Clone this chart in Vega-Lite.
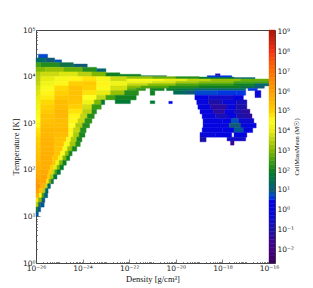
{"$schema":"https://vega.github.io/schema/vega-lite/v6.json","background":"white","padding":{"left":10,"top":25,"right":4,"bottom":3},"autosize":{"type":"pad"},"spacing":0,"bounds":"flush","config":{"view":{"stroke":"#444","strokeWidth":1},"axis":{"grid":false,"domain":false,"tickColor":"#555","tickWidth":0.7,"labelFont":"DejaVu Sans","labelFontSize":7.5,"labelColor":"#222","titleFont":"Liberation Serif","titleFontWeight":"normal","titleColor":"#111","titleFontSize":8.5,"labelOverlap":false,"labelFlush":false,"labelBound":false}},
"datasets":{"cells":[
{"d0":-25.9,"d1":-25.5,"t0":4.4,"t1":4.48,"m":0.7},
{"d0":-26,"d1":-25.6,"t0":4.3,"t1":4.4,"m":1.3},{"d0":-25.6,"d1":-25.2,"t0":4.3,"t1":4.4,"m":1},{"d0":-25.2,"d1":-24.9,"t0":4.3,"t1":4.36,"m":0.8},
{"d0":-26,"d1":-25.8,"t0":4.2,"t1":4.3,"m":2.5},{"d0":-25.8,"d1":-25,"t0":4.2,"t1":4.3,"m":2.2},{"d0":-25,"d1":-24.4,"t0":4.2,"t1":4.3,"m":1.5},{"d0":-24.4,"d1":-23.8,"t0":4.2,"t1":4.27,"m":1},
{"d0":-26,"d1":-25.6,"t0":4.1,"t1":4.2,"m":3},{"d0":-25.6,"d1":-24.8,"t0":4.1,"t1":4.2,"m":3.2},{"d0":-24.8,"d1":-24,"t0":4.1,"t1":4.2,"m":2.8},{"d0":-24,"d1":-23.4,"t0":4.1,"t1":4.2,"m":2.2},{"d0":-23.4,"d1":-23,"t0":4.1,"t1":4.17,"m":1.2},
{"d0":-26,"d1":-25.8,"t0":4,"t1":4.1,"m":3.4},{"d0":-25.8,"d1":-25,"t0":4,"t1":4.1,"m":3.7},{"d0":-25,"d1":-24.2,"t0":4,"t1":4.1,"m":3.9},{"d0":-24.2,"d1":-23.6,"t0":4,"t1":4.1,"m":3.5},{"d0":-23.6,"d1":-23,"t0":4,"t1":4.1,"m":3},{"d0":-23,"d1":-22.4,"t0":4,"t1":4.08,"m":2},{"d0":-22.4,"d1":-21.5,"t0":4,"t1":4.05,"m":2},{"d0":-21.5,"d1":-20.4,"t0":4,"t1":4.02,"m":1.5},
{"d0":-26,"d1":-25.8,"t0":3.9,"t1":4,"m":3.5},{"d0":-25.8,"d1":-25.2,"t0":3.9,"t1":4,"m":4},{"d0":-25.2,"d1":-24.6,"t0":3.9,"t1":4,"m":4.3},{"d0":-24.6,"d1":-24,"t0":3.9,"t1":4,"m":4.6},{"d0":-24,"d1":-23.4,"t0":3.9,"t1":4,"m":4.8},{"d0":-23.4,"d1":-22.8,"t0":3.9,"t1":4,"m":4.3},{"d0":-22.8,"d1":-22.1,"t0":3.9,"t1":4,"m":3.7},
{"d0":-22.1,"d1":-21,"t0":3.95,"t1":4,"m":3.2},{"d0":-21,"d1":-20,"t0":3.95,"t1":4,"m":2.8},{"d0":-20,"d1":-19,"t0":3.95,"t1":4,"m":2.2},{"d0":-19,"d1":-17.5,"t0":3.95,"t1":3.99,"m":1.8},{"d0":-17.5,"d1":-16.6,"t0":3.95,"t1":3.98,"m":1.2},
{"d0":-18.65,"d1":-17.6,"t0":3.99,"t1":4.02,"m":0.6},{"d0":-18.3,"d1":-18.1,"t0":4.02,"t1":4.06,"m":-0.8},
{"d0":-22.1,"d1":-20.5,"t0":3.9,"t1":3.95,"m":4.4},{"d0":-20.5,"d1":-19.5,"t0":3.9,"t1":3.95,"m":4.1},{"d0":-19.5,"d1":-18.5,"t0":3.9,"t1":3.95,"m":3.6},{"d0":-18.5,"d1":-17.2,"t0":3.9,"t1":3.95,"m":3.2},{"d0":-17.2,"d1":-16,"t0":3.9,"t1":3.95,"m":2.8},
{"d0":-22.1,"d1":-21,"t0":3.85,"t1":3.9,"m":4.1},{"d0":-21,"d1":-20,"t0":3.85,"t1":3.9,"m":3.8},{"d0":-20,"d1":-19,"t0":3.85,"t1":3.9,"m":3.3},{"d0":-19,"d1":-17.5,"t0":3.85,"t1":3.9,"m":3},{"d0":-17.5,"d1":-16,"t0":3.85,"t1":3.9,"m":2.5},
{"d0":-22.1,"d1":-21.2,"t0":3.8,"t1":3.85,"m":3.6},{"d0":-21.2,"d1":-20,"t0":3.8,"t1":3.85,"m":3.1},{"d0":-20,"d1":-19,"t0":3.8,"t1":3.85,"m":2.6},{"d0":-19,"d1":-17.5,"t0":3.8,"t1":3.85,"m":2.4},{"d0":-17.5,"d1":-16.6,"t0":3.8,"t1":3.85,"m":2},{"d0":-16.6,"d1":-16,"t0":3.8,"t1":3.85,"m":1.2},
{"d0":-22.1,"d1":-21.5,"t0":3.75,"t1":3.8,"m":3.1},{"d0":-21.5,"d1":-20.3,"t0":3.75,"t1":3.8,"m":2.6},{"d0":-20.3,"d1":-19,"t0":3.75,"t1":3.8,"m":2.2},{"d0":-19,"d1":-17.2,"t0":3.75,"t1":3.8,"m":2},{"d0":-17.2,"d1":-16.6,"t0":3.75,"t1":3.8,"m":1.5},{"d0":-16.6,"d1":-16.2,"t0":3.75,"t1":3.8,"m":1},
{"d0":-22.1,"d1":-21.7,"t0":3.7,"t1":3.75,"m":2.7},{"d0":-21.7,"d1":-21.3,"t0":3.7,"t1":3.75,"m":2.3},{"d0":-21.1,"d1":-20.5,"t0":3.7,"t1":3.75,"m":2},{"d0":-20.4,"d1":-19.9,"t0":3.7,"t1":3.75,"m":1.9},{"d0":-19.9,"d1":-19.2,"t0":3.7,"t1":3.75,"m":1.7},{"d0":-19.2,"d1":-17,"t0":3.7,"t1":3.75,"m":1.3},{"d0":-16.9,"d1":-16.5,"t0":3.7,"t1":3.75,"m":0.6},
{"d0":-26,"d1":-25.8,"t0":3.8,"t1":3.9,"m":3.6},{"d0":-25.8,"d1":-25.2,"t0":3.8,"t1":3.9,"m":4.2},{"d0":-25.2,"d1":-24.6,"t0":3.8,"t1":3.9,"m":4.6},{"d0":-24.6,"d1":-24,"t0":3.8,"t1":3.9,"m":5},{"d0":-24,"d1":-23.4,"t0":3.8,"t1":3.9,"m":5.1},{"d0":-23.4,"d1":-22.8,"t0":3.8,"t1":3.9,"m":4.6},{"d0":-22.8,"d1":-22.1,"t0":3.8,"t1":3.9,"m":4.2},
{"d0":-26,"d1":-25.8,"t0":3.7,"t1":3.8,"m":3.8},{"d0":-25.8,"d1":-25.2,"t0":3.7,"t1":3.8,"m":4.4},{"d0":-25.2,"d1":-24.6,"t0":3.7,"t1":3.8,"m":4.9},{"d0":-24.6,"d1":-24,"t0":3.7,"t1":3.8,"m":5.3},{"d0":-24,"d1":-23.4,"t0":3.7,"t1":3.8,"m":5},{"d0":-23.4,"d1":-22.8,"t0":3.7,"t1":3.8,"m":4.4},{"d0":-22.8,"d1":-22.1,"t0":3.7,"t1":3.8,"m":3.8},
{"d0":-26,"d1":-25.8,"t0":3.6,"t1":3.7,"m":3.9},{"d0":-25.8,"d1":-25.2,"t0":3.6,"t1":3.7,"m":4.6},{"d0":-25.2,"d1":-24.6,"t0":3.6,"t1":3.7,"m":5},{"d0":-24.6,"d1":-24,"t0":3.6,"t1":3.7,"m":5.3},{"d0":-24,"d1":-23.4,"t0":3.6,"t1":3.7,"m":4.8},{"d0":-23.4,"d1":-22.8,"t0":3.6,"t1":3.7,"m":4},{"d0":-22.8,"d1":-22.2,"t0":3.6,"t1":3.7,"m":3.2},{"d0":-22.2,"d1":-21.6,"t0":3.6,"t1":3.7,"m":2.2},{"d0":-21.1,"d1":-20.9,"t0":3.6,"t1":3.7,"m":2},{"d0":-20.1,"d1":-19.6,"t0":3.62,"t1":3.7,"m":1.4},{"d0":-19.6,"d1":-19.18,"t0":3.62,"t1":3.7,"m":1},
{"d0":-26,"d1":-25.8,"t0":3.5,"t1":3.6,"m":4},{"d0":-25.8,"d1":-25.2,"t0":3.5,"t1":3.6,"m":4.7},{"d0":-25.2,"d1":-24.6,"t0":3.5,"t1":3.6,"m":5.2},{"d0":-24.6,"d1":-24,"t0":3.5,"t1":3.6,"m":5.3},{"d0":-24,"d1":-23.4,"t0":3.5,"t1":3.6,"m":4.5},{"d0":-23.4,"d1":-23,"t0":3.5,"t1":3.6,"m":3.6},{"d0":-23,"d1":-22.6,"t0":3.5,"t1":3.6,"m":2.5},{"d0":-22.6,"d1":-21.7,"t0":3.5,"t1":3.6,"m":2},
{"d0":-26,"d1":-25.8,"t0":3.4,"t1":3.5,"m":4.1},{"d0":-25.8,"d1":-25.2,"t0":3.4,"t1":3.5,"m":4.9},{"d0":-25.2,"d1":-24.6,"t0":3.4,"t1":3.5,"m":5.4},{"d0":-24.6,"d1":-24,"t0":3.4,"t1":3.5,"m":5.2},{"d0":-24,"d1":-23.5,"t0":3.4,"t1":3.5,"m":4.2},{"d0":-23.5,"d1":-23.2,"t0":3.4,"t1":3.5,"m":3},{"d0":-23.2,"d1":-23.05,"t0":3.4,"t1":3.5,"m":1.8},{"d0":-22.6,"d1":-21.95,"t0":3.42,"t1":3.5,"m":1.8},{"d0":-21.1,"d1":-20.9,"t0":3.42,"t1":3.48,"m":1.8},{"d0":-20.3,"d1":-20.15,"t0":3.42,"t1":3.47,"m":0.4},
{"d0":-26,"d1":-25.8,"t0":3.3,"t1":3.4,"m":4.2},{"d0":-25.8,"d1":-25.2,"t0":3.3,"t1":3.4,"m":5},{"d0":-25.2,"d1":-24.6,"t0":3.3,"t1":3.4,"m":5.4},{"d0":-24.6,"d1":-24,"t0":3.3,"t1":3.4,"m":5},{"d0":-24,"d1":-23.6,"t0":3.3,"t1":3.4,"m":3.8},{"d0":-23.6,"d1":-23.2,"t0":3.3,"t1":3.4,"m":2.4},
{"d0":-26,"d1":-25.8,"t0":3.2,"t1":3.3,"m":4.3},{"d0":-25.8,"d1":-25.2,"t0":3.2,"t1":3.3,"m":5.1},{"d0":-25.2,"d1":-24.6,"t0":3.2,"t1":3.3,"m":5.5},{"d0":-24.6,"d1":-24,"t0":3.2,"t1":3.3,"m":4.8},{"d0":-24,"d1":-23.6,"t0":3.2,"t1":3.3,"m":3.5},{"d0":-23.6,"d1":-23.4,"t0":3.2,"t1":3.3,"m":2.2},
{"d0":-26,"d1":-25.8,"t0":3.1,"t1":3.2,"m":4.4},{"d0":-25.8,"d1":-25.2,"t0":3.1,"t1":3.2,"m":5.3},{"d0":-25.2,"d1":-24.6,"t0":3.1,"t1":3.2,"m":5.5},{"d0":-24.6,"d1":-24.1,"t0":3.1,"t1":3.2,"m":4.6},{"d0":-24.1,"d1":-23.8,"t0":3.1,"t1":3.2,"m":3.6},{"d0":-23.8,"d1":-23.5,"t0":3.1,"t1":3.2,"m":2.2},
{"d0":-26,"d1":-25.8,"t0":3,"t1":3.1,"m":4.5},{"d0":-25.8,"d1":-25.2,"t0":3,"t1":3.1,"m":5.3},{"d0":-25.2,"d1":-24.6,"t0":3,"t1":3.1,"m":5.4},{"d0":-24.6,"d1":-24.2,"t0":3,"t1":3.1,"m":4.6},{"d0":-24.2,"d1":-23.9,"t0":3,"t1":3.1,"m":3.6},{"d0":-23.9,"d1":-23.6,"t0":3,"t1":3.1,"m":2.3},
{"d0":-26,"d1":-25.8,"t0":2.9,"t1":3,"m":4.6},{"d0":-25.8,"d1":-25.2,"t0":2.9,"t1":3,"m":5.4},{"d0":-25.2,"d1":-24.6,"t0":2.9,"t1":3,"m":5.4},{"d0":-24.6,"d1":-24.3,"t0":2.9,"t1":3,"m":4.5},{"d0":-24.3,"d1":-24,"t0":2.9,"t1":3,"m":3.4},{"d0":-24,"d1":-23.7,"t0":2.9,"t1":3,"m":2.2},
{"d0":-26,"d1":-25.8,"t0":2.8,"t1":2.9,"m":4.8},{"d0":-25.8,"d1":-25.2,"t0":2.8,"t1":2.9,"m":5.5},{"d0":-25.2,"d1":-24.6,"t0":2.8,"t1":2.9,"m":5.5},{"d0":-24.6,"d1":-24.4,"t0":2.8,"t1":2.9,"m":4.6},{"d0":-24.4,"d1":-24.1,"t0":2.8,"t1":2.9,"m":3.6},{"d0":-24.1,"d1":-23.85,"t0":2.8,"t1":2.9,"m":2.2},
{"d0":-26,"d1":-25.8,"t0":2.7,"t1":2.8,"m":4.9},{"d0":-25.8,"d1":-25.2,"t0":2.7,"t1":2.8,"m":5.5},{"d0":-25.2,"d1":-24.6,"t0":2.7,"t1":2.8,"m":5.4},{"d0":-24.6,"d1":-24.4,"t0":2.7,"t1":2.8,"m":4.4},{"d0":-24.4,"d1":-24.15,"t0":2.7,"t1":2.8,"m":3.4},{"d0":-24.15,"d1":-23.9,"t0":2.7,"t1":2.8,"m":2.1},
{"d0":-26,"d1":-25.8,"t0":2.6,"t1":2.7,"m":5},{"d0":-25.8,"d1":-25.2,"t0":2.6,"t1":2.7,"m":5.6},{"d0":-25.2,"d1":-24.7,"t0":2.6,"t1":2.7,"m":5.3},{"d0":-24.7,"d1":-24.5,"t0":2.6,"t1":2.7,"m":4.4},{"d0":-24.5,"d1":-24.25,"t0":2.6,"t1":2.7,"m":3.4},{"d0":-24.25,"d1":-24.03,"t0":2.6,"t1":2.7,"m":2.1},
{"d0":-26,"d1":-25.8,"t0":2.5,"t1":2.6,"m":5.1},{"d0":-25.8,"d1":-25.2,"t0":2.5,"t1":2.6,"m":5.6},{"d0":-25.2,"d1":-24.8,"t0":2.5,"t1":2.6,"m":5.3},{"d0":-24.8,"d1":-24.55,"t0":2.5,"t1":2.6,"m":4.4},{"d0":-24.55,"d1":-24.3,"t0":2.5,"t1":2.6,"m":3.3},{"d0":-24.3,"d1":-24.1,"t0":2.5,"t1":2.6,"m":2.2},
{"d0":-26,"d1":-25.8,"t0":2.4,"t1":2.5,"m":5.2},{"d0":-25.8,"d1":-25.2,"t0":2.4,"t1":2.5,"m":5.6},{"d0":-25.2,"d1":-24.85,"t0":2.4,"t1":2.5,"m":5.2},{"d0":-24.85,"d1":-24.65,"t0":2.4,"t1":2.5,"m":4.4},{"d0":-24.65,"d1":-24.45,"t0":2.4,"t1":2.5,"m":3.2},{"d0":-24.45,"d1":-24.25,"t0":2.4,"t1":2.5,"m":2.1},
{"d0":-26,"d1":-25.8,"t0":2.3,"t1":2.4,"m":5.3},{"d0":-25.8,"d1":-25.2,"t0":2.3,"t1":2.4,"m":5.7},{"d0":-25.2,"d1":-24.95,"t0":2.3,"t1":2.4,"m":5.2},{"d0":-24.95,"d1":-24.75,"t0":2.3,"t1":2.4,"m":4.4},{"d0":-24.75,"d1":-24.6,"t0":2.3,"t1":2.4,"m":3.2},{"d0":-24.6,"d1":-24.45,"t0":2.3,"t1":2.4,"m":2.1},
{"d0":-26,"d1":-25.8,"t0":2.2,"t1":2.3,"m":5.4},{"d0":-25.8,"d1":-25.3,"t0":2.2,"t1":2.3,"m":5.7},{"d0":-25.3,"d1":-25.05,"t0":2.2,"t1":2.3,"m":5.2},{"d0":-25.05,"d1":-24.85,"t0":2.2,"t1":2.3,"m":4.2},{"d0":-24.85,"d1":-24.7,"t0":2.2,"t1":2.3,"m":3},{"d0":-24.7,"d1":-24.55,"t0":2.2,"t1":2.3,"m":2},
{"d0":-26,"d1":-25.8,"t0":2.1,"t1":2.2,"m":5.5},{"d0":-25.8,"d1":-25.3,"t0":2.1,"t1":2.2,"m":5.7},{"d0":-25.3,"d1":-25.15,"t0":2.1,"t1":2.2,"m":5.2},{"d0":-25.15,"d1":-25,"t0":2.1,"t1":2.2,"m":4.2},{"d0":-25,"d1":-24.85,"t0":2.1,"t1":2.2,"m":3},{"d0":-24.85,"d1":-24.7,"t0":2.1,"t1":2.2,"m":2},
{"d0":-26,"d1":-25.8,"t0":2,"t1":2.1,"m":5.6},{"d0":-25.8,"d1":-25.4,"t0":2,"t1":2.1,"m":5.7},{"d0":-25.4,"d1":-25.25,"t0":2,"t1":2.1,"m":5},{"d0":-25.25,"d1":-25.1,"t0":2,"t1":2.1,"m":4},{"d0":-25.1,"d1":-24.98,"t0":2,"t1":2.1,"m":3},{"d0":-24.98,"d1":-24.82,"t0":2,"t1":2.1,"m":1.9},
{"d0":-26,"d1":-25.8,"t0":1.9,"t1":2,"m":5.7},{"d0":-25.8,"d1":-25.45,"t0":1.9,"t1":2,"m":5.8},{"d0":-25.45,"d1":-25.3,"t0":1.9,"t1":2,"m":5},{"d0":-25.3,"d1":-25.2,"t0":1.9,"t1":2,"m":3.6},{"d0":-25.2,"d1":-25.1,"t0":1.9,"t1":2,"m":2.6},{"d0":-25.1,"d1":-24.95,"t0":1.9,"t1":2,"m":1.8},
{"d0":-26,"d1":-25.8,"t0":1.8,"t1":1.9,"m":5.8},{"d0":-25.8,"d1":-25.5,"t0":1.8,"t1":1.9,"m":5.9},{"d0":-25.5,"d1":-25.4,"t0":1.8,"t1":1.9,"m":5},{"d0":-25.4,"d1":-25.25,"t0":1.8,"t1":1.9,"m":3.4},{"d0":-25.25,"d1":-25.1,"t0":1.8,"t1":1.9,"m":1.7},
{"d0":-26,"d1":-25.8,"t0":1.7,"t1":1.8,"m":6},{"d0":-25.8,"d1":-25.55,"t0":1.7,"t1":1.8,"m":5.9},{"d0":-25.55,"d1":-25.45,"t0":1.7,"t1":1.8,"m":4.8},{"d0":-25.45,"d1":-25.35,"t0":1.7,"t1":1.8,"m":3},{"d0":-25.35,"d1":-25.25,"t0":1.7,"t1":1.8,"m":1.5},
{"d0":-26,"d1":-25.8,"t0":1.6,"t1":1.7,"m":6.2},{"d0":-25.8,"d1":-25.6,"t0":1.6,"t1":1.7,"m":5.6},{"d0":-25.6,"d1":-25.5,"t0":1.6,"t1":1.7,"m":3.6},{"d0":-25.5,"d1":-25.38,"t0":1.6,"t1":1.7,"m":1.3},
{"d0":-26,"d1":-25.85,"t0":1.5,"t1":1.6,"m":6},{"d0":-25.85,"d1":-25.7,"t0":1.5,"t1":1.6,"m":5.4},{"d0":-25.7,"d1":-25.6,"t0":1.5,"t1":1.6,"m":3.5},{"d0":-25.6,"d1":-25.48,"t0":1.5,"t1":1.6,"m":1.2},
{"d0":-26,"d1":-25.85,"t0":1.4,"t1":1.5,"m":5.6},{"d0":-25.85,"d1":-25.75,"t0":1.4,"t1":1.5,"m":4.6},{"d0":-25.75,"d1":-25.65,"t0":1.4,"t1":1.5,"m":2.6},{"d0":-25.65,"d1":-25.5,"t0":1.4,"t1":1.5,"m":1.1},
{"d0":-26,"d1":-25.9,"t0":1.3,"t1":1.4,"m":4.8},{"d0":-25.9,"d1":-25.75,"t0":1.3,"t1":1.4,"m":3},{"d0":-25.75,"d1":-25.62,"t0":1.3,"t1":1.4,"m":1},
{"d0":-26,"d1":-25.9,"t0":1.2,"t1":1.3,"m":3.5},{"d0":-25.9,"d1":-25.8,"t0":1.2,"t1":1.3,"m":1.5},{"d0":-25.8,"d1":-25.65,"t0":1.2,"t1":1.3,"m":0.9},
{"d0":-26,"d1":-25.92,"t0":1.1,"t1":1.2,"m":2},{"d0":-25.92,"d1":-25.8,"t0":1.1,"t1":1.2,"m":0.9},
{"d0":-26,"d1":-25.9,"t0":1,"t1":1.1,"m":0.9},
{"d0":-19.18,"d1":-18.2,"t0":3.6,"t1":3.7,"m":0.7},{"d0":-18.2,"d1":-17.4,"t0":3.6,"t1":3.7,"m":0.6},{"d0":-17.4,"d1":-17,"t0":3.6,"t1":3.7,"m":0.6},{"d0":-16.6,"d1":-16.35,"t0":3.55,"t1":3.7,"m":-0.3},
{"d0":-19.18,"d1":-18.6,"t0":3.5,"t1":3.6,"m":0.2},{"d0":-18.6,"d1":-17.5,"t0":3.5,"t1":3.6,"m":-0.5},{"d0":-17.5,"d1":-17.1,"t0":3.5,"t1":3.6,"m":0},
{"d0":-19.1,"d1":-18.6,"t0":3.4,"t1":3.5,"m":0},{"d0":-18.6,"d1":-18,"t0":3.4,"t1":3.5,"m":-1},{"d0":-18,"d1":-17.4,"t0":3.4,"t1":3.5,"m":-0.3},{"d0":-17.4,"d1":-16.95,"t0":3.4,"t1":3.5,"m":-0.8},
{"d0":-19.05,"d1":-18.5,"t0":3.3,"t1":3.4,"m":0},{"d0":-18.5,"d1":-17.8,"t0":3.3,"t1":3.4,"m":-1.2},{"d0":-17.8,"d1":-17.4,"t0":3.3,"t1":3.4,"m":-0.2},{"d0":-17.4,"d1":-16.95,"t0":3.3,"t1":3.4,"m":-1},
{"d0":-18.96,"d1":-18.4,"t0":3.2,"t1":3.3,"m":-0.1},{"d0":-18.4,"d1":-17.9,"t0":3.2,"t1":3.3,"m":-1.2},{"d0":-17.9,"d1":-17.5,"t0":3.2,"t1":3.3,"m":-0.1},{"d0":-17.5,"d1":-17.2,"t0":3.2,"t1":3.3,"m":-0.8},{"d0":-17.2,"d1":-16.82,"t0":3.2,"t1":3.3,"m":-1.2},
{"d0":-18.87,"d1":-18.3,"t0":3.1,"t1":3.2,"m":-0.1},{"d0":-18.3,"d1":-17.8,"t0":3.1,"t1":3.2,"m":-0.8},{"d0":-17.8,"d1":-17.4,"t0":3.1,"t1":3.2,"m":0},{"d0":-17.4,"d1":-16.9,"t0":3.1,"t1":3.2,"m":-1},{"d0":-16.9,"d1":-16.73,"t0":3.1,"t1":3.2,"m":-1.3},
{"d0":-18.83,"d1":-18,"t0":3,"t1":3.1,"m":0},{"d0":-18,"d1":-17.6,"t0":3,"t1":3.1,"m":0.1},{"d0":-17.6,"d1":-17.3,"t0":3,"t1":3.1,"m":0.8},{"d0":-17.3,"d1":-16.65,"t0":3,"t1":3.1,"m":-0.4},
{"d0":-18.83,"d1":-18.1,"t0":2.9,"t1":3,"m":0.1},{"d0":-18.1,"d1":-17.7,"t0":2.9,"t1":3,"m":0},{"d0":-17.7,"d1":-17.2,"t0":2.9,"t1":3,"m":1},{"d0":-17.2,"d1":-16.55,"t0":2.9,"t1":3,"m":-0.1},
{"d0":-18.87,"d1":-18,"t0":2.8,"t1":2.9,"m":0},{"d0":-18,"d1":-17.5,"t0":2.8,"t1":2.9,"m":0.2},{"d0":-17.5,"d1":-17.1,"t0":2.8,"t1":2.9,"m":0.9},{"d0":-17.1,"d1":-16.7,"t0":2.8,"t1":2.9,"m":0},
{"d0":-18.96,"d1":-18.3,"t0":2.7,"t1":2.8,"m":-0.3},{"d0":-18.3,"d1":-17.6,"t0":2.7,"t1":2.8,"m":0.1},{"d0":-17.5,"d1":-16.95,"t0":2.7,"t1":2.8,"m":0},
{"d0":-18.96,"d1":-18.7,"t0":2.6,"t1":2.7,"m":-1},{"d0":-17.8,"d1":-17,"t0":2.62,"t1":2.7,"m":-0.5},{"d0":-17.65,"d1":-17.5,"t0":2.53,"t1":2.62,"m":-1.5}
],
"bar":[{"lo":-2.7,"hi":-2.5,"m":-2.6},{"lo":-2.5,"hi":-2.3,"m":-2.4},{"lo":-2.3,"hi":-2.1,"m":-2.2},{"lo":-2.1,"hi":-1.9,"m":-2},{"lo":-1.9,"hi":-1.7,"m":-1.8},{"lo":-1.7,"hi":-1.5,"m":-1.6},{"lo":-1.5,"hi":-1.3,"m":-1.4},{"lo":-1.3,"hi":-1.1,"m":-1.2},{"lo":-1.1,"hi":-0.9,"m":-1},{"lo":-0.9,"hi":-0.7,"m":-0.8},{"lo":-0.7,"hi":-0.5,"m":-0.6},{"lo":-0.5,"hi":-0.3,"m":-0.4},{"lo":-0.3,"hi":-0.1,"m":-0.2},{"lo":-0.1,"hi":0.1,"m":0},{"lo":0.1,"hi":0.3,"m":0.2},{"lo":0.3,"hi":0.5,"m":0.4},{"lo":0.5,"hi":0.7,"m":0.6},{"lo":0.7,"hi":0.9,"m":0.8},{"lo":0.9,"hi":1.1,"m":1},{"lo":1.1,"hi":1.3,"m":1.2},{"lo":1.3,"hi":1.5,"m":1.4},{"lo":1.5,"hi":1.7,"m":1.6},{"lo":1.7,"hi":1.9,"m":1.8},{"lo":1.9,"hi":2.1,"m":2},{"lo":2.1,"hi":2.3,"m":2.2},{"lo":2.3,"hi":2.5,"m":2.4},{"lo":2.5,"hi":2.7,"m":2.6},{"lo":2.7,"hi":2.9,"m":2.8},{"lo":2.9,"hi":3.1,"m":3},{"lo":3.1,"hi":3.3,"m":3.2},{"lo":3.3,"hi":3.5,"m":3.4},{"lo":3.5,"hi":3.7,"m":3.6},{"lo":3.7,"hi":3.9,"m":3.8},{"lo":3.9,"hi":4.1,"m":4},{"lo":4.1,"hi":4.3,"m":4.2},{"lo":4.3,"hi":4.5,"m":4.4},{"lo":4.5,"hi":4.7,"m":4.6},{"lo":4.7,"hi":4.9,"m":4.8},{"lo":4.9,"hi":5.1,"m":5},{"lo":5.1,"hi":5.3,"m":5.2},{"lo":5.3,"hi":5.5,"m":5.4},{"lo":5.5,"hi":5.7,"m":5.6},{"lo":5.7,"hi":5.9,"m":5.8},{"lo":5.9,"hi":6.1,"m":6},{"lo":6.1,"hi":6.3,"m":6.2},{"lo":6.3,"hi":6.5,"m":6.4},{"lo":6.5,"hi":6.7,"m":6.6},{"lo":6.7,"hi":6.9,"m":6.8},{"lo":6.9,"hi":7.1,"m":7},{"lo":7.1,"hi":7.3,"m":7.2},{"lo":7.3,"hi":7.5,"m":7.4},{"lo":7.5,"hi":7.7,"m":7.6},{"lo":7.7,"hi":7.9,"m":7.8},{"lo":7.9,"hi":8.1,"m":8},{"lo":8.1,"hi":8.3,"m":8.2},{"lo":8.3,"hi":8.5,"m":8.4},{"lo":8.5,"hi":8.7,"m":8.6},{"lo":8.7,"hi":8.9,"m":8.8},{"lo":8.9,"hi":9.1,"m":9}]},
"hconcat":[{"width":233,"height":233,"layer":[
{"data":{"name":"cells"},"mark":{"type":"rect","strokeWidth":0.4},"encoding":{
"x":{"field":"d0","type":"quantitative","scale":{"domain":[-26,-16],"nice":false,"zero":false},"axis":{"orient":"bottom","title":"Density [g/cm³]","titlePadding":0,"labelPadding":5,"values":[-26,-25.699,-25.523,-25.398,-25.301,-25.222,-25.155,-25.097,-25.046,-25,-24.699,-24.523,-24.398,-24.301,-24.222,-24.155,-24.097,-24.046,-24,-23.699,-23.523,-23.398,-23.301,-23.222,-23.155,-23.097,-23.046,-23,-22.699,-22.523,-22.398,-22.301,-22.222,-22.155,-22.097,-22.046,-22,-21.699,-21.523,-21.398,-21.301,-21.222,-21.155,-21.097,-21.046,-21,-20.699,-20.523,-20.398,-20.301,-20.222,-20.155,-20.097,-20.046,-20,-19.699,-19.523,-19.398,-19.301,-19.222,-19.155,-19.097,-19.046,-19,-18.699,-18.523,-18.398,-18.301,-18.222,-18.155,-18.097,-18.046,-18,-17.699,-17.523,-17.398,-17.301,-17.222,-17.155,-17.097,-17.046,-17,-16.699,-16.523,-16.398,-16.301,-16.222,-16.155,-16.097,-16.046,-16],"tickSize":{"condition":{"test":"datum.value==-26||datum.value==-24||datum.value==-22||datum.value==-20||datum.value==-18||datum.value==-16","value":-4},"value":-1.5},"labelExpr":"datum.value==-26?'10⁻²⁶':datum.value==-24?'10⁻²⁴':datum.value==-22?'10⁻²²':datum.value==-20?'10⁻²⁰':datum.value==-18?'10⁻¹⁸':datum.value==-16?'10⁻¹⁶':''"}},
"x2":{"field":"d1"},
"y":{"field":"t0","type":"quantitative","scale":{"domain":[0,5],"nice":false,"zero":false},"axis":{"orient":"left","title":"Temperature [K]","titlePadding":2,"labelPadding":5,"values":[0,0.301,0.477,0.602,0.699,0.778,0.845,0.903,0.954,1,1.301,1.477,1.602,1.699,1.778,1.845,1.903,1.954,2,2.301,2.477,2.602,2.699,2.778,2.845,2.903,2.954,3,3.301,3.477,3.602,3.699,3.778,3.845,3.903,3.954,4,4.301,4.477,4.602,4.699,4.778,4.845,4.903,4.954,5],"tickSize":{"condition":{"test":"datum.value==0||datum.value==1||datum.value==2||datum.value==3||datum.value==4||datum.value==5","value":-4},"value":-1.5},"labelExpr":"datum.value==0?'10⁰':datum.value==1?'10¹':datum.value==2?'10²':datum.value==3?'10³':datum.value==4?'10⁴':datum.value==5?'10⁵':''"}},
"y2":{"field":"t1"},
"color":{"field":"m","type":"quantitative","legend":null,"scale":{"type":"linear","domain":[-2.7,-2,-1,-0.3,0.5,1,1.5,2,2.5,3,3.5,4,4.5,5,6,7,8,9,9.1],"range":["#3a0060","#440080","#1c10a8","#0808d8","#0000e8","#105a78","#107048","#108020","#40a010","#80b800","#b8d010","#e8ec10","#ffff20","#ffd000","#ffa000","#ff7000","#f83010","#b01808","#901000"]}},
"stroke":{"field":"m","type":"quantitative","legend":null,"scale":{"type":"linear","domain":[-2.7,-2,-1,-0.3,0.5,1,1.5,2,2.5,3,3.5,4,4.5,5,6,7,8,9,9.1],"range":["#3a0060","#440080","#1c10a8","#0808d8","#0000e8","#105a78","#107048","#108020","#40a010","#80b800","#b8d010","#e8ec10","#ffff20","#ffd000","#ffa000","#ff7000","#f83010","#b01808","#901000"]}}}}
]},
{"width":6,"height":233,"data":{"name":"bar"},"mark":{"type":"rect","strokeWidth":0.4},"encoding":{
"y":{"field":"lo","type":"quantitative","scale":{"domain":[-2.7,9.1],"nice":false,"zero":false},"axis":{"orient":"right","title":"CellMassMean  (M☉)","titleAngle":270,"titleFontSize":6.5,"titlePadding":6,"labelPadding":2,"tickSize":0,"values":[-2,-1,0,1,2,3,4,5,6,7,8,9],"labelExpr":"datum.value==-2?'10⁻²':datum.value==-1?'10⁻¹':datum.value==0?'10⁰':datum.value==1?'10¹':datum.value==2?'10²':datum.value==3?'10³':datum.value==4?'10⁴':datum.value==5?'10⁵':datum.value==6?'10⁶':datum.value==7?'10⁷':datum.value==8?'10⁸':'10⁹'"}},
"y2":{"field":"hi"},
"color":{"field":"m","type":"quantitative","legend":null,"scale":{"type":"linear","domain":[-2.7,-2,-1,-0.3,0.5,1,1.5,2,2.5,3,3.5,4,4.5,5,6,7,8,9,9.1],"range":["#3a0060","#440080","#1c10a8","#0808d8","#0000e8","#105a78","#107048","#108020","#40a010","#80b800","#b8d010","#e8ec10","#ffff20","#ffd000","#ffa000","#ff7000","#f83010","#b01808","#901000"]}},
"stroke":{"field":"m","type":"quantitative","legend":null,"scale":{"type":"linear","domain":[-2.7,-2,-1,-0.3,0.5,1,1.5,2,2.5,3,3.5,4,4.5,5,6,7,8,9,9.1],"range":["#3a0060","#440080","#1c10a8","#0808d8","#0000e8","#105a78","#107048","#108020","#40a010","#80b800","#b8d010","#e8ec10","#ffff20","#ffd000","#ffa000","#ff7000","#f83010","#b01808","#901000"]}}}}
],"resolve":{"scale":{"color":"independent","stroke":"independent","y":"independent"}}}
